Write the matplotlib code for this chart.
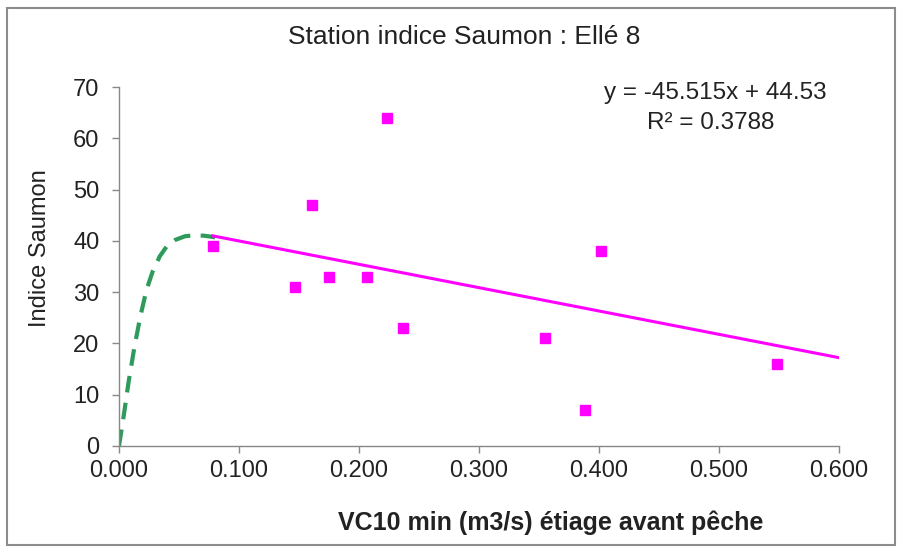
import numpy as np
import matplotlib.pyplot as plt
from matplotlib.patches import Rectangle

plt.rcParams['font.family'] = ['Liberation Sans', 'DejaVu Sans']

# observed points
vc10 = [0.078, 0.147, 0.161, 0.175, 0.207, 0.223, 0.237, 0.355, 0.388, 0.402, 0.548]
indice = [39, 31, 47, 33, 33, 64, 23, 21, 7, 38, 16]

# linear trend (Excel)
slope = -45.515
intercept = 44.53
trend_x = [0.078, 0.600]

# hand drawn dashed curve near zero flow
curve_x = [0.000, 0.004, 0.008, 0.013, 0.018, 0.023, 0.028, 0.034, 0.040, 0.047,
           0.055, 0.063, 0.071, 0.080]
curve_y = [0.0, 6.0, 12.5, 19.5, 25.5, 30.5, 34.0, 37.0, 39.0, 40.2,
           40.9, 41.1, 41.0, 40.7]

W, H = 903, 554
fig = plt.figure(figsize=(W / 100, H / 100), dpi=100)
ax = fig.add_axes([119 / W, 1 - 446 / H, 720 / W, 359 / H])

ax.plot(curve_x, curve_y, color='#2e9a5c', lw=3, ls=(0, (4, 2.5)), zorder=2)
tx = np.array(trend_x)
ax.plot(tx, slope * tx + intercept, color='#ff00ff', lw=2.2, zorder=3)
ax.plot(vc10, indice, ls='none', marker='s', ms=7.5, color='#ff00ff', zorder=4)

ax.set_xlim(0, 0.6)
ax.set_ylim(0, 70)
xt = np.arange(0, 0.61, 0.1)
ax.set_xticks(xt)
ax.set_xticklabels(['%.3f' % v for v in xt])
ax.set_yticks(range(0, 71, 10))

for s in ['top', 'right']:
    ax.spines[s].set_visible(False)
for s in ['left', 'bottom']:
    ax.spines[s].set_color('#888888')
    ax.spines[s].set_linewidth(1)
ax.tick_params(axis='both', colors='#888888', labelcolor='#222222', labelsize=17,
               length=5, width=1, direction='out')
ax.tick_params(axis='y', pad=9)
ax.tick_params(axis='x', pad=5)


def px_text(x, y, s, **kw):
    fig.text(x / W, 1 - y / H, s, ha='center', va='center', color='#222222', **kw)


px_text(464, 37, 'Station indice Saumon : Ellé 8', fontsize=19)
px_text(551, 523, 'VC10 min (m3/s) étiage avant pêche', fontsize=18, fontweight='bold')
px_text(40, 248, 'Indice Saumon', fontsize=17, rotation=90)
px_text(715, 93, 'y = -45.515x + 44.53', fontsize=17.5)
px_text(711, 123, 'R² = 0.3788', fontsize=17.5)

fig.patches.append(Rectangle((7 / W, 9 / H), 888 / W, 537 / H, transform=fig.transFigure,
                             fill=False, edgecolor='#8c8c8c', lw=1.5))

fig.savefig('out.png', dpi=100)
